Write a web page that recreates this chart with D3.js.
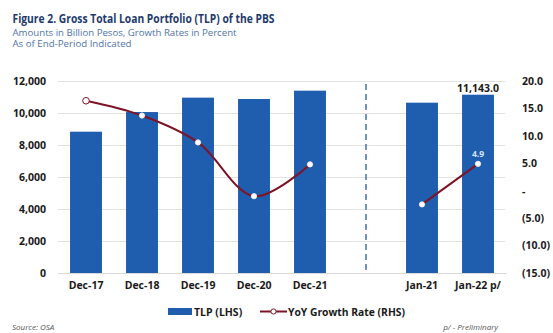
<!DOCTYPE html>
<html>
<head>
<meta charset="utf-8">
<script src="https://cdn.jsdelivr.net/npm/d3@7/dist/d3.min.js"></script>
<style>
  html, body { margin: 0; padding: 0; background: #fff; }
  svg { display: block; font-family: "Open Sans", "Liberation Sans", sans-serif; }
</style>
</head>
<body>
<svg id="chart" width="553" height="333"></svg>
<script>
// ---- Data ----
const categories = ["Dec-17", "Dec-18", "Dec-19", "Dec-20", "Dec-21", "", "Jan-21", "Jan-22 p/"];
const tlpValues = [8831, 10060, 10960, 10875, 11395, null, 10645, 11143];
const growthValues = [16.4, 13.7, 8.8, -1.0, 4.8, null, -2.5, 4.9];
const leftTicks = [0, 2000, 4000, 6000, 8000, 10000, 12000];
const rightTicks = [-15, -10, -5, 0, 5, 10, 15, 20];
const tlpLabel = "11,143.0";
const growthLabel = "4.9";

const svg = d3.select("#chart");
const plotTop = 81, plotBottom = 273, plotLeft = 58, plotRight = 506;

const BAR = "#1F5DAF", LINE = "#7E1426", GRID = "#E3E3E3";

function fit(sel, w) {
  const n = sel.node();
  const len = n.getComputedTextLength();
  if (Math.abs(len - w) > 1) sel.attr("textLength", w).attr("lengthAdjust", "spacingAndGlyphs");
  return sel;
}

// ---- Titles ----
fit(svg.append("text").attr("x", 12.5).attr("y", 23)
  .attr("font-size", 11.5).attr("font-weight", 700).attr("fill", "#1E3A6D")
  .text("Figure 2. Gross Total Loan Portfolio (TLP) of the PBS"), 262);
fit(svg.append("text").attr("x", 12.5).attr("y", 35.5)
  .attr("font-size", 9).attr("fill", "#4F74A8")
  .text("Amounts in Billion Pesos, Growth Rates in Percent"), 224);
fit(svg.append("text").attr("x", 12.5).attr("y", 47)
  .attr("font-size", 9).attr("fill", "#4F74A8")
  .text("As of End-Period Indicated"), 119);

// ---- Scales ----
const x = d3.scaleBand().domain(categories.map((c, i) => i)).range([plotLeft, plotRight]).paddingInner(0.43).paddingOuter(0.215);
const yL = d3.scaleLinear().domain([0, 12000]).range([plotBottom, plotTop]);
const yR = d3.scaleLinear().domain([-15, 20]).range([plotBottom, plotTop]);

// ---- Gridlines ----
svg.append("g").selectAll("line").data(leftTicks).join("line")
  .attr("x1", plotLeft).attr("x2", plotRight - 1)
  .attr("y1", d => Math.round(yL(d)) + 0.5).attr("y2", d => Math.round(yL(d)) + 0.5)
  .attr("stroke", GRID).attr("stroke-width", 1);

// ---- Left axis ----
const axL = svg.append("g").attr("transform", `translate(${plotLeft},0)`)
  .call(d3.axisLeft(yL).tickValues(leftTicks).tickFormat(d3.format(",")).tickSize(0).tickPadding(12));
axL.select(".domain").remove();
axL.selectAll("text").attr("font-size", 10.5).attr("font-weight", 700).attr("fill", "#1a1a1a")
  .attr("font-family", "'Open Sans', sans-serif");

// ---- Right axis ----
const fmtR = d => d === 0 ? "-" : (d < 0 ? "(" + d3.format(".1f")(-d) + ")" : d3.format(".1f")(d));
const axR = svg.append("g").attr("transform", `translate(${plotRight + 16},0)`)
  .call(d3.axisRight(yR).tickValues(rightTicks).tickFormat(fmtR).tickSize(0).tickPadding(0));
axR.select(".domain").remove();
axR.selectAll("text").attr("font-size", 10.5).attr("font-weight", 700).attr("fill", "#1a1a1a")
  .attr("font-family", "'Open Sans', sans-serif");

// ---- Bars ----
const barData = categories.map((c, i) => ({ i, c, v: tlpValues[i] })).filter(d => d.v != null);
svg.append("g").selectAll("rect").data(barData).join("rect")
  .attr("x", d => x(d.i)).attr("width", x.bandwidth())
  .attr("y", d => yL(d.v)).attr("height", d => yL(0) - yL(d.v))
  .attr("fill", BAR);

// ---- Dashed separator at the gap category ----
const gapIdx = categories.indexOf("");
const gx = x(gapIdx) + x.bandwidth() / 2;
svg.append("line").attr("x1", gx).attr("x2", gx).attr("y1", plotTop + 3).attr("y2", plotBottom)
  .attr("stroke", "#6A98C4").attr("stroke-width", 2).attr("stroke-dasharray", "6,4");

// ---- X axis ----
const axX = svg.append("g").attr("transform", `translate(0,${plotBottom})`)
  .call(d3.axisBottom(x).tickFormat(i => categories[i]).tickSize(0).tickPadding(9));
axX.select(".domain").attr("stroke", "#D9D9D9");
axX.selectAll("text").attr("font-size", 10.5).attr("font-weight", 700).attr("fill", "#1a1a1a")
  .attr("font-family", "'Open Sans', sans-serif");

// ---- Line ----
const pts = categories.map((c, i) => ({ i, v: growthValues[i] }));
const line = d3.line().defined(d => d.v != null)
  .x(d => x(d.i) + x.bandwidth() / 2).y(d => yR(d.v))
  .curve(d3.curveCatmullRom.alpha(0.5));
svg.append("path").datum(pts).attr("d", line)
  .attr("fill", "none").attr("stroke", LINE).attr("stroke-width", 2);
svg.append("g").selectAll("circle").data(pts.filter(d => d.v != null)).join("circle")
  .attr("cx", d => x(d.i) + x.bandwidth() / 2).attr("cy", d => yR(d.v))
  .attr("r", (d, k) => k === 0 ? 3.3 : 2.6)
  .attr("fill", "#fff").attr("stroke", (d, k) => k === 0 ? LINE : "#f2e6e8").attr("stroke-width", 1);

// ---- Data labels ----
const lastI = categories.length - 1;
svg.append("text").attr("x", x(lastI) + x.bandwidth() / 2).attr("y", yL(tlpValues[lastI]) - 3)
  .attr("text-anchor", "middle").attr("font-size", 10.5).attr("font-weight", 700).attr("fill", "#1a1a1a")
  .text(tlpLabel);
svg.append("text").attr("x", x(lastI) + x.bandwidth() / 2).attr("y", yR(growthValues[lastI]) - 7)
  .attr("text-anchor", "middle").attr("font-size", 8.5).attr("font-weight", 700).attr("fill", "#D6E4F5")
  .text(growthLabel);

// ---- Legend ----
const lg = svg.append("g");
lg.append("rect").attr("x", 168).attr("y", 308).attr("width", 24).attr("height", 7).attr("fill", BAR);
fit(lg.append("text").attr("x", 194).attr("y", 315.5).attr("font-size", 10.5).attr("font-weight", 700).attr("fill", "#1a1a1a")
  .text("TLP (LHS)"), 49);
lg.append("line").attr("x1", 260).attr("x2", 287).attr("y1", 311.5).attr("y2", 311.5).attr("stroke", LINE).attr("stroke-width", 2);
lg.append("circle").attr("cx", 273.5).attr("cy", 311.5).attr("r", 2.6).attr("fill", "#fff").attr("stroke", LINE).attr("stroke-width", 1);
fit(lg.append("text").attr("x", 288).attr("y", 315.5).attr("font-size", 10.5).attr("font-weight", 700).attr("fill", "#1a1a1a")
  .text("YoY Growth Rate (RHS)"), 117);

// ---- Footer ----
svg.append("text").attr("x", 12).attr("y", 330).attr("font-size", 8).attr("font-style", "italic").attr("fill", "#555")
  .text("Source: OSA");
svg.append("text").attr("x", 498).attr("y", 330).attr("text-anchor", "end").attr("font-size", 8).attr("font-style", "italic").attr("fill", "#555")
  .text("p/ - Preliminary");
</script>
</body>
</html>
